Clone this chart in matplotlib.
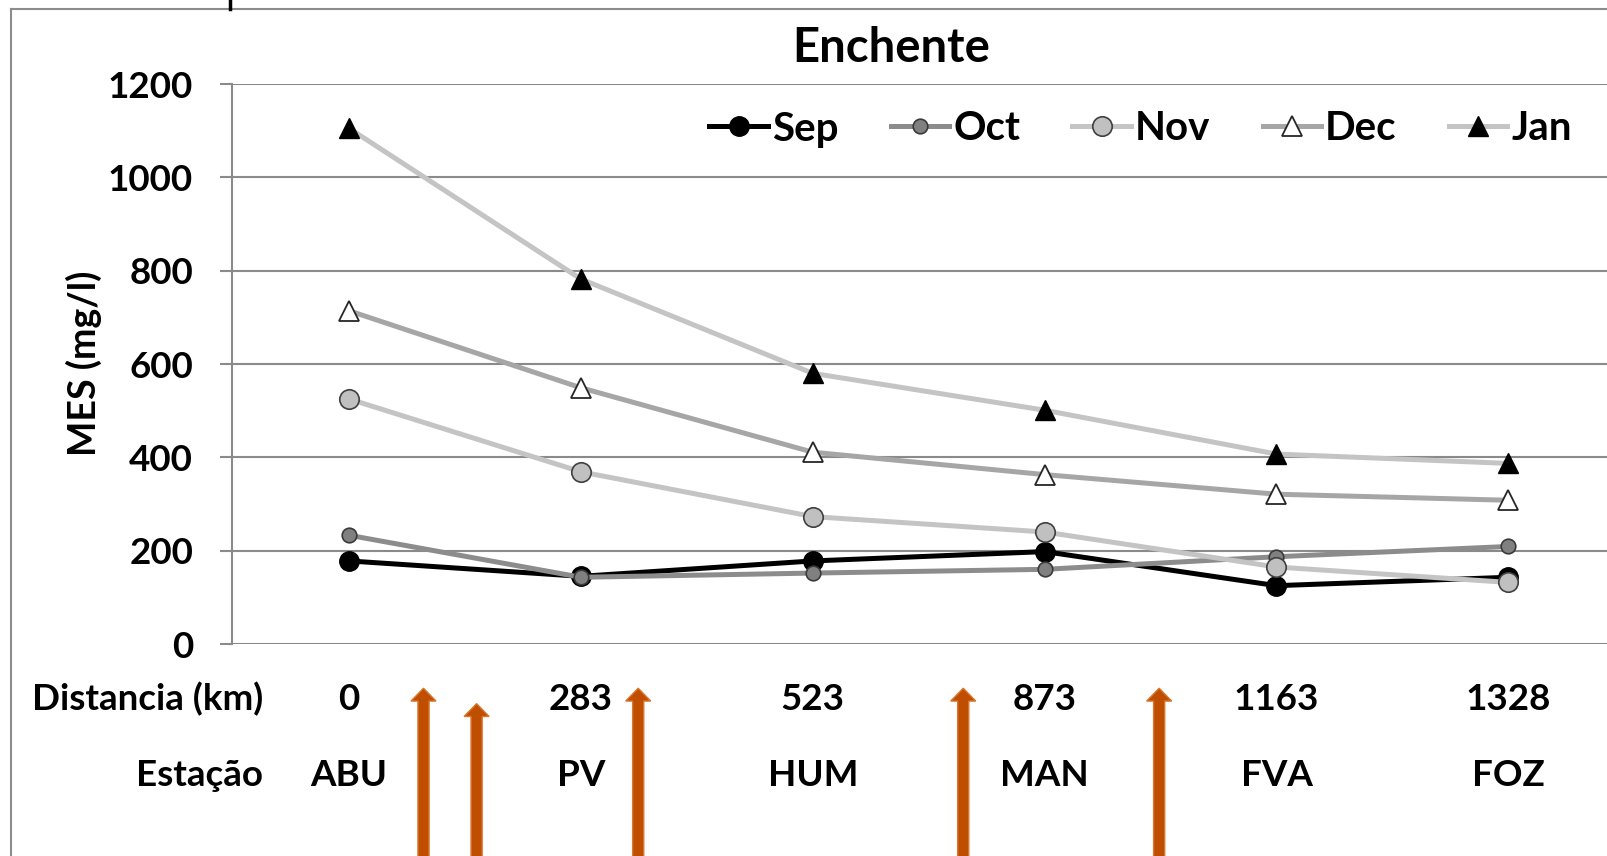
import matplotlib.pyplot as plt
from matplotlib.lines import Line2D
from matplotlib.patches import FancyArrow
from matplotlib.transforms import blended_transform_factory

plt.rcParams['font.family'] = ['Lato', 'DejaVu Sans']
plt.rcParams['font.weight'] = 'bold'

# stations along the river and their distance (km)
estacoes = ['ABU', 'PV', 'HUM', 'MAN', 'FVA', 'FOZ']
distancias = [0, 283, 523, 873, 1163, 1328]

# suspended matter (MES, mg/l) per month
meses = ['Sep', 'Oct', 'Nov', 'Dec', 'Jan']
mes_sep = [178, 145, 178, 198, 125, 143]
mes_oct = [233, 143, 152, 160, 187, 209]
mes_nov = [525, 369, 273, 240, 165, 132]
mes_dec = [714, 549, 411, 363, 321, 308]
mes_jan = [1105, 782, 580, 501, 407, 387]

# tributary inflow arrows (station-index units) and tip height (figure fraction)
setas_x = [0.321, 0.550, 1.247, 2.649, 3.494]
setas_topo = [0.196, 0.178, 0.196, 0.196, 0.196]

estilos = [
    dict(color='black', lw=3.6, marker='o', ms=14, mfc='black', mec='black'),
    dict(color='#8C8C8C', lw=3.6, marker='o', ms=10.5, mfc='#808080', mec='#3A3A3A', mew=1.2),
    dict(color='#C4C4C4', lw=3.6, marker='o', ms=14, mfc='#C0C0C0', mec='#404040', mew=1.2),
    dict(color='#A6A6A6', lw=3.6, marker='^', ms=15, mfc='white', mec='#262626', mew=1.3),
    dict(color='#C4C4C4', lw=3.6, marker='^', ms=15, mfc='black', mec='black'),
]
series = [mes_sep, mes_oct, mes_nov, mes_dec, mes_jan]

fig = plt.figure(figsize=(16.08, 8.56), dpi=100)
ax = fig.add_axes([232 / 1608, 1 - 644 / 856, 1 - 232 / 1608, 560 / 856])

x = list(range(len(estacoes)))
for vals, st in zip(series, estilos):
    ax.plot(x, vals, zorder=3, **st)

ax.set_ylim(0, 1200)
ax.set_xlim(-0.505, 5.43)
ax.set_yticks(range(0, 1201, 200))
ax.set_xticks([])
ax.grid(axis='y', color='#8A8A8A', lw=1.5)
ax.set_axisbelow(True)
for s in ['top', 'right', 'bottom']:
    ax.spines[s].set_visible(False)
ax.spines['left'].set_color('#8A8A8A')
ax.spines['left'].set_linewidth(1.5)
ax.tick_params(axis='y', length=9, width=1.5, color='#8A8A8A', pad=19, labelsize=26.5)

# title and y label
fig.text(891 / 1608, 1 - 48 / 856, 'Enchente', ha='center', va='center', fontsize=34)
fig.text(84 / 1608, 1 - 363 / 856, 'MES (mg/l)', rotation=90, ha='center', va='center', fontsize=27)

# legend
handles = [Line2D([], [], **st) for st in estilos]
fig.legend(handles, meses, loc='center right', bbox_to_anchor=(1572 / 1608, 1 - 129 / 856),
           ncol=5, frameon=False, fontsize=29, handlelength=1.45, handletextpad=0.1,
           columnspacing=1.3, borderpad=0, borderaxespad=0)

# table rows under the axis
trans = blended_transform_factory(ax.transData, fig.transFigure)
y_dist = 1 - 699 / 856
y_est = 1 - 775 / 856
fig.text(263 / 1608, y_dist, 'Distancia (km)', ha='right', va='center', fontsize=26.5)
fig.text(263 / 1608, y_est, 'Estação', ha='right', va='center', fontsize=26.5)
for i, (d, e) in enumerate(zip(distancias, estacoes)):
    ax.text(i, y_dist, str(d), transform=trans, ha='center', va='center', fontsize=26.5, clip_on=False)
    ax.text(i, y_est, e, transform=trans, ha='center', va='center', fontsize=26.5, clip_on=False)

# tributary arrows
for sx, top in zip(setas_x, setas_topo):
    arr = FancyArrow(sx, -0.02, 0, top + 0.02, width=0.048, head_width=0.108, head_length=0.015,
                     length_includes_head=True, transform=trans, facecolor='#BF4E00',
                     edgecolor='#D9772E', lw=1, clip_on=False, zorder=5)
    fig.add_artist(arr)

# outer frame
fig.add_artist(Line2D([11 / 1608, 11 / 1608], [0, 1 - 9 / 856], transform=fig.transFigure,
                      color='#8C8C8C', lw=1.5))
fig.add_artist(Line2D([11 / 1608, 1], [1 - 9 / 856, 1 - 9 / 856], transform=fig.transFigure,
                      color='#8C8C8C', lw=1.5))
fig.add_artist(Line2D([230 / 1608, 230 / 1608], [1 - 9 / 856, 1], transform=fig.transFigure,
                      color='black', lw=2.5))

fig.savefig('out.png', dpi=100)
